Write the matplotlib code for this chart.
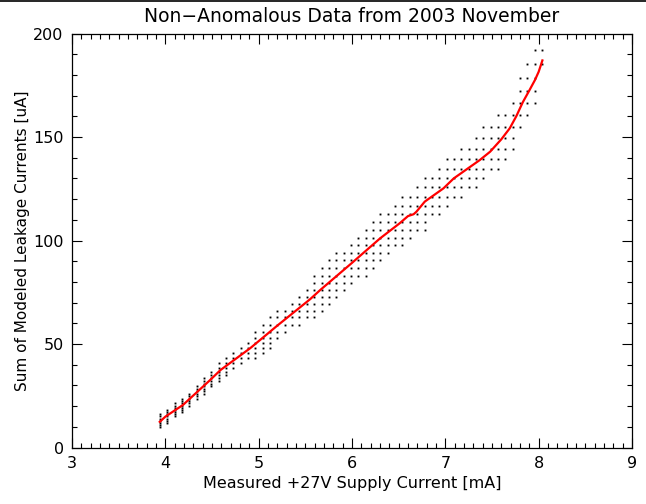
import numpy as np
import matplotlib.pyplot as plt
from matplotlib.lines import Line2D

# ---------------- Data ----------------

# quantized supply current columns [mA]
col_x = [3.940, 4.019, 4.098, 4.176, 4.255, 4.334, 4.413, 4.492, 4.570, 4.649,
         4.728, 4.807, 4.886, 4.964, 5.043, 5.122, 5.201, 5.280, 5.358, 5.437,
         5.516, 5.595, 5.674, 5.752, 5.831, 5.910, 5.989, 6.068, 6.146, 6.225,
         6.304, 6.383, 6.462, 6.540, 6.619, 6.698, 6.777, 6.856, 6.934, 7.013,
         7.092, 7.171, 7.250, 7.328, 7.407, 7.486, 7.565, 7.644, 7.722, 7.801,
         7.880, 7.959, 8.038]

# lower / upper extent of the dot band in each column [uA]
col_lo = [9.5, 12.0, 14.5, 17.0, 20.0, 23.0, 25.0, 28.5, 31.5, 34.5,
          37.0, 39.5, 42.0, 42.5, 45.0, 48.0, 50.5, 53.5, 56.5, 59.0,
          62.0, 62.0, 65.0, 68.0, 71.0, 74.0, 77.0, 80.0, 83.0, 86.0,
          89.0, 92.0, 95.0, 97.0, 100.0, 102.0, 105.0, 109.0, 112.0, 114.0,
          118.0, 120.0, 123.0, 125.0, 128.0, 131.0, 134.0, 137.0, 142.0, 150.0,
          158.0, 165.0, 180.0]
col_hi = [16.0, 19.0, 21.5, 24.0, 27.0, 30.0, 34.5, 38.0, 41.5, 44.0,
          46.5, 49.5, 52.5, 57.5, 60.5, 63.5, 66.0, 69.0, 72.0, 75.0,
          77.5, 85.0, 88.5, 91.5, 94.5, 97.5, 100.5, 104.0, 107.0, 110.0,
          113.0, 116.0, 119.0, 121.5, 124.0, 126.5, 131.0, 134.0, 137.0, 139.5,
          142.0, 145.0, 148.5, 151.0, 155.0, 160.0, 162.0, 166.0, 172.0, 180.0,
          187.0, 193.0, 193.0]

# quantized levels of the modeled leakage sum [uA]
levels = [8.0, 9.0, 10.0, 11.0, 12.0, 13.0, 14.0, 15.0, 16.0, 17.0, 18.0,
          19.1, 20.2, 21.3, 22.4, 23.5, 24.7, 25.9, 27.1, 28.3, 29.6, 30.9,
          32.2, 33.6, 35.0, 36.5, 38.4, 40.8, 43.0, 45.6, 48.0, 50.4, 52.9,
          56.0, 59.2, 62.9, 66.0, 69.3, 72.7, 76.0, 79.4, 83.0, 86.9, 90.6,
          94.1, 97.6, 101.3, 105.1, 108.8, 112.6, 116.5, 121.0, 125.8, 130.2,
          134.5, 139.3, 144.2, 149.4, 155.0, 160.6, 166.5, 172.3, 178.6, 185.2,
          191.9]

# running mean (red curve)
mean_x = [3.94, 4.00, 4.19, 4.48, 4.59, 4.91, 5.20, 5.55, 5.66, 6.00, 6.30,
          6.51, 6.60, 6.66, 6.69, 6.78, 6.98, 7.09, 7.37, 7.48, 7.60, 7.69,
          7.76, 7.83, 7.90, 7.96, 8.00, 8.04]
mean_y = [12.4, 14.9, 20.6, 32.6, 37.4, 48.0, 58.9, 71.6, 76.1, 89.2, 101.0,
          108.3, 111.8, 112.7, 113.9, 118.8, 125.2, 130.0, 138.9, 142.9, 148.9,
          154.2, 160.0, 166.8, 172.5, 177.5, 181.5, 187.0]

# ---------------- Plot ----------------

plt.rcParams['font.family'] = ['DejaVu Sans']

fig = plt.figure(figsize=(6.46, 5.04), dpi=100)
ax = fig.add_axes([0.1115, 0.1121, 0.8668, 0.8214])

px, py = [], []
for x, lo, hi in zip(col_x, col_lo, col_hi):
    for lv in levels:
        if lo <= lv <= hi:
            px.append(x)
            py.append(lv)

ax.plot(px, py, linestyle='none', marker='s', markersize=1.35,
        markeredgewidth=0, color='black')
ax.plot(mean_x, mean_y, color='red', linewidth=1.6)

ax.set_xlim(3, 9)
ax.set_ylim(0, 200)
ax.set_xticks(np.arange(3, 10, 1))
ax.set_xticks(np.arange(3, 9.01, 0.1), minor=True)
ax.set_yticks(np.arange(0, 201, 50))
ax.set_yticks(np.arange(0, 201, 10), minor=True)

ax.tick_params(which='both', direction='in', top=True, right=True,
               width=0.8, labelsize=11.5, pad=6)
ax.tick_params(which='major', length=7.5)
ax.tick_params(which='minor', length=3.8)
for s in ax.spines.values():
    s.set_linewidth(0.9)

ax.set_title("Non\u2212Anomalous Data from 2003 November", fontsize=13.5, pad=8)
ax.set_xlabel("Measured +27V Supply Current [mA]", fontsize=11.5, labelpad=4)
ax.set_ylabel("Sum of Modeled Leakage Currents [uA]", fontsize=11, labelpad=2)

fig.add_artist(Line2D([0, 1], [0.999, 0.999], color='black', linewidth=1.2))

fig.savefig("out.png", dpi=100)
